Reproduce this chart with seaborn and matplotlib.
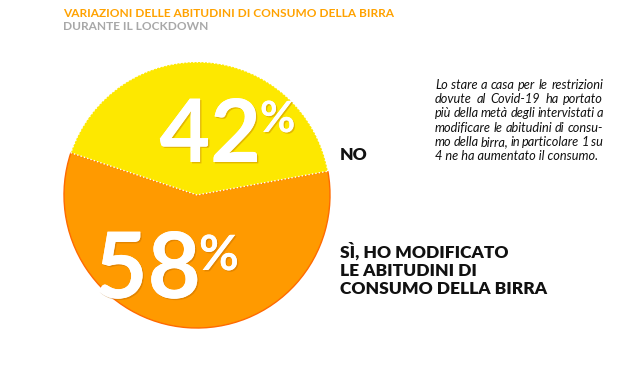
import matplotlib
matplotlib.use("Agg")
import matplotlib.pyplot as plt
import matplotlib.patheffects as pe
import seaborn as sns

sns.set_theme(style="white")
plt.rcParams['font.family'] = ['Lato', 'DejaVu Sans']

# Data
categories = ["NO", "SÌ, HO MODIFICATO\nLE ABITUDINI DI\nCONSUMO DELLA BIRRA"]
values = [42, 58]
colors = ["#FDE800", "#FF9A00"]
title = "VARIAZIONI DELLE ABITUDINI DI CONSUMO DELLA BIRRA"
subtitle = "DURANTE IL LOCKDOWN"
note_lines = [
    "Lo stare a casa per le restrizioni",
    "dovute al Covid-19 ha portato",
    "più della metà degli intervistati a",
    "modificare le abitudini di consu-",
    "mo della birra, in particolare 1 su",
    "4 ne ha aumentato il consumo.",
]

W, H = 640, 370
fig = plt.figure(figsize=(W / 100, H / 100), dpi=100)
fig.patch.set_facecolor("white")


def fx(x):
    return x / W


def fy(y):
    return 1 - y / H


# pie axes: center (197,195), radius 133 px
cx, cy, r = 197, 195, 133
ax = fig.add_axes([fx(cx - r), fy(cy + r), 2 * r / W, 2 * r / H])
wedges, _ = ax.pie(values, colors=colors, startangle=10.3, counterclock=True,
                   radius=1.0, wedgeprops=dict(linewidth=0))
ax.set_xlim(-1, 1)
ax.set_ylim(-1, 1)
ax.set_aspect("equal")
ax.axis("off")
wedges[1].set_edgecolor("#FF6A00")
wedges[1].set_linewidth(1.0)
wedges[1].set_zorder(1)
wedges[0].set_edgecolor("white")
wedges[0].set_linestyle((0, (1, 1.5)))
wedges[0].set_linewidth(1.0)
wedges[0].set_zorder(2)

shadow = [pe.withSimplePatchShadow(offset=(1, -1), shadow_rgbFace="#B06000", alpha=0.35), pe.Normal()]

# big percentage labels
fig.text(fx(261), fy(162), f"{values[0]}", color="white", fontsize=63,
         fontweight="bold", ha="right", va="baseline", path_effects=shadow)
fig.text(fx(260), fy(132), "%", color="white", fontsize=31, fontweight="bold",
         ha="left", va="baseline", path_effects=shadow)
fig.text(fx(201), fy(298), f"{values[1]}", color="white", fontsize=66,
         fontweight="bold", ha="right", va="baseline", path_effects=shadow)
fig.text(fx(199), fy(270), "%", color="white", fontsize=35, fontweight="bold",
         ha="left", va="baseline", path_effects=shadow)

# category labels
fig.text(fx(340), fy(160), categories[0], color="#111111", fontsize=12.5,
         fontweight="heavy", ha="left", va="baseline")
for i, line in enumerate(categories[1].split("\n")):
    fig.text(fx(340), fy(258 + i * 18), line, color="#111111", fontsize=12.5,
             fontweight="heavy", ha="left", va="baseline")

# titles
fig.text(fx(63), fy(17), title, color="#FFA200", fontsize=8.6, fontweight="bold",
         ha="left", va="baseline")
fig.text(fx(63), fy(30.5), subtitle, color="#A8A8A8", fontsize=8.6, fontweight="bold",
         ha="left", va="baseline")

# note, justified between x=435 and x=603
renderer = fig.canvas.get_renderer()
x0, x1 = 435, 603
fs = 9.2
for i, line in enumerate(note_lines):
    y = fy(89 + i * 14.2)
    if i == len(note_lines) - 1:
        fig.text(fx(x0), y, line, color="#111111", fontsize=fs,
                 style="italic", ha="left", va="baseline")
        continue
    words = line.split(" ")
    texts = []
    widths = []
    for w in words:
        t = fig.text(0, y, w, color="#111111", fontsize=fs, style="italic",
                     ha="left", va="baseline")
        texts.append(t)
        widths.append(t.get_window_extent(renderer).width)
    gap = (x1 - x0 - sum(widths)) / max(len(words) - 1, 1)
    x = x0
    for t, wd in zip(texts, widths):
        t.set_x(fx(x))
        x += wd + gap

fig.savefig("out.png", dpi=100, facecolor="white")
